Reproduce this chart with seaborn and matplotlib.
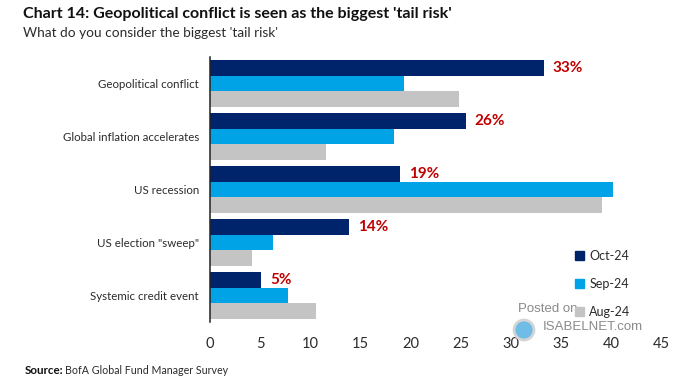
import matplotlib
matplotlib.use("Agg")
import matplotlib.pyplot as plt
import pandas as pd
import seaborn as sns

# Data
CATEGORIES = [
    "Geopolitical conflict",
    "Global inflation accelerates",
    "US recession",
    'US election "sweep"',
    "Systemic credit event",
]
OCT_24 = [33.3, 25.5, 19.0, 13.9, 5.1]
SEP_24 = [19.4, 18.4, 40.2, 6.3, 7.8]
AUG_24 = [24.8, 11.6, 39.1, 4.2, 10.6]
OCT_LABELS = ["33%", "26%", "19%", "14%", "5%"]
SERIES = ["Oct-24", "Sep-24", "Aug-24"]
TICKS = [0, 5, 10, 15, 20, 25, 30, 35, 40, 45]

PALETTE = ["#00246B", "#00A3E6", "#C4C4C4"]
TEXT = "#2b2b2b"

sns.set_theme(style="white")
plt.rcParams["font.family"] = ["Lato", "DejaVu Sans"]

df = pd.DataFrame(
    {"category": CATEGORIES * 3,
     "series": [s for s in SERIES for _ in CATEGORIES],
     "value": OCT_24 + SEP_24 + AUG_24}
)

fig = plt.figure(figsize=(7, 3.8), dpi=100)
ax = fig.add_axes([210 / 700, 1 - 322 / 380, 451 / 700, 265 / 380])

sns.barplot(
    data=df, y="category", x="value", hue="series", order=CATEGORIES,
    hue_order=SERIES, palette=PALETTE, width=0.87, saturation=1,
    linewidth=0, legend=False, ax=ax,
)

ax.set_xlim(0, 45)
ax.set_xticks(TICKS)
ax.set_xlabel("")
ax.set_ylabel("")
sns.despine(ax=ax, top=True, right=True, bottom=True)
ax.spines["left"].set_color("#222222")
ax.spines["left"].set_linewidth(1.1)
ax.tick_params(axis="x", length=0, pad=11, labelsize=10.5, labelcolor=TEXT)
ax.tick_params(axis="y", length=0, pad=8, labelsize=8.3, labelcolor=TEXT)

# Red value labels on the Oct-24 bars
for bar, label in zip(ax.containers[0], OCT_LABELS):
    ax.annotate(
        label, (bar.get_width(), bar.get_y() + bar.get_height() / 2),
        xytext=(6.5, 0), textcoords="offset points", va="center", ha="left",
        color="#C00000", fontsize=11, fontweight="bold",
    )

# Legend, stacked with wide spacing
handles = [plt.Rectangle((0, 0), 1, 1, color=c) for c in PALETTE]
fig.legend(
    handles, SERIES, loc="upper left", bbox_to_anchor=(575 / 700, 1 - 250 / 380),
    frameon=False, fontsize=9, handlelength=0.75, handleheight=0.75,
    handletextpad=0.4, labelspacing=1.28, labelcolor=TEXT,
    borderpad=0, borderaxespad=0,
)

# Titles and source
fig.text(23 / 700, 1 - 14 / 380, "Chart 14: Geopolitical conflict is seen as the biggest 'tail risk'",
         fontsize=11.5, fontweight="bold", color="#111111", va="center")
fig.text(23 / 700, 1 - 33 / 380, "What do you consider the biggest 'tail risk'",
         fontsize=9.8, color=TEXT, va="center")
fig.text(25 / 700, 1 - 370 / 380, "Source:", fontsize=8.4, fontweight="bold",
         color="#111111", va="center")
fig.text(65 / 700, 1 - 370 / 380, "BofA Global Fund Manager Survey", fontsize=7.7,
         color=TEXT, va="center")

# Watermark
fig.text(518 / 700, 1 - 309 / 380, "Posted on", family="Liberation Sans", fontsize=9.5,
         color="#8a8a8a", va="center")
fig.text(543 / 700, 1 - 327 / 380, "ISABELNET.com", family="Liberation Sans", fontsize=9.5,
         color="#8a8a8a", va="center")
logo = plt.Circle((524 / 700 * 7, 3.8 * (1 - 330 / 380)), 0.1, transform=fig.dpi_scale_trans,
                  facecolor="#6FBCE6", edgecolor="#d5d5d5", linewidth=2, zorder=5)
fig.add_artist(logo)

fig.savefig("out.png", dpi=100)
